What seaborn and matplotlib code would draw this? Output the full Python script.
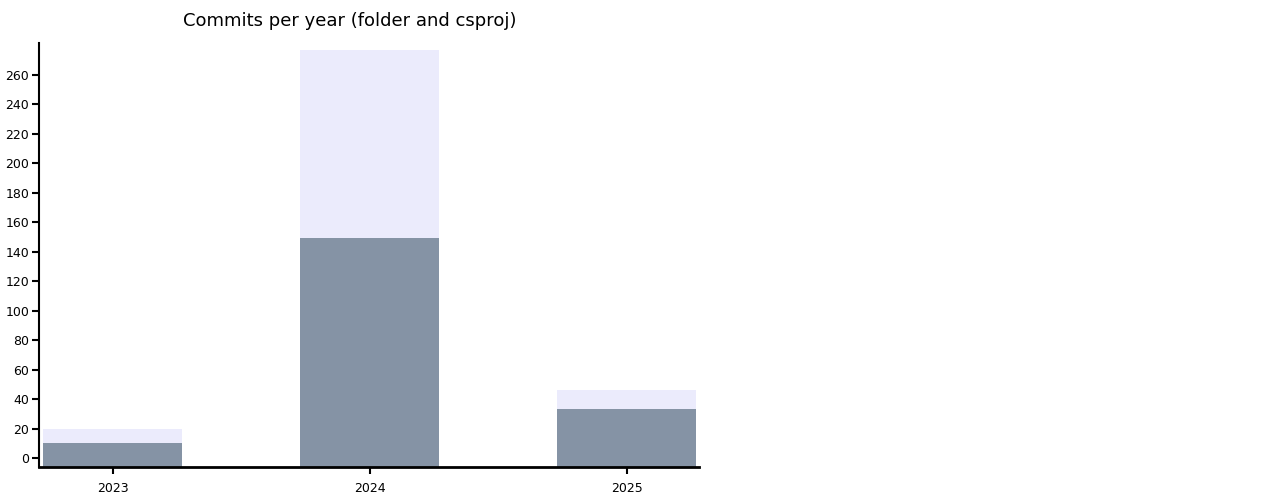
import matplotlib
matplotlib.use("Agg")
import matplotlib.pyplot as plt
import seaborn as sns
import pandas as pd

sns.set_style("white")
plt.rcParams["font.family"] = ["DejaVu Sans"]
plt.rcParams["text.color"] = "black"
plt.rcParams["xtick.color"] = "black"
plt.rcParams["ytick.color"] = "black"

# data
years = ["2023", "2024", "2025"]
folder_commits = [20, 277, 46]
csproj_commits = [10, 149, 33]
yticks = list(range(0, 261, 20))

LIGHT = "#ebebfc"
DARK = "#8593a5"
YMIN, YMAX = -6.1, 281.7

df = pd.DataFrame({"year": years, "folder": folder_commits, "csproj": csproj_commits})

fig = plt.figure(figsize=(12.64, 5.01), dpi=100)
ax = fig.add_axes([39 / 1264, 1 - 467 / 501, 660 / 1264, 424 / 501])

sns.barplot(data=df, x="year", y="folder", color=LIGHT, saturation=1,
            width=0.541, linewidth=0, ax=ax)
sns.barplot(data=df, x="year", y="csproj", color=DARK, saturation=1,
            width=0.541, linewidth=0, ax=ax)

# bars in the original run down to the bottom of the axis
for p in ax.patches:
    h = p.get_height()
    p.set_y(YMIN)
    p.set_height(h - YMIN)

ax.set_ylim(YMIN, YMAX)
ax.set_xlim(-0.286, 2.282)
ax.set_yticks(yticks)
ax.set_xlabel("")
ax.set_ylabel("")

for s in ["top", "right"]:
    ax.spines[s].set_visible(False)
ax.spines["left"].set_linewidth(1.5)
ax.spines["bottom"].set_linewidth(2)
ax.spines["left"].set_color("black")
ax.spines["bottom"].set_color("black")
ax.tick_params(axis="both", which="both", length=5, width=1.5, color="black",
               labelcolor="black", labelsize=9, direction="out", left=True, bottom=True)
ax.tick_params(axis="y", pad=2)
ax.tick_params(axis="x", pad=6)

fig.text(350 / 1264, 1 - 21 / 501, "Commits per year (folder and csproj)",
         ha="center", va="center", fontsize=13, color="black")

fig.savefig("out.png", dpi=100)
